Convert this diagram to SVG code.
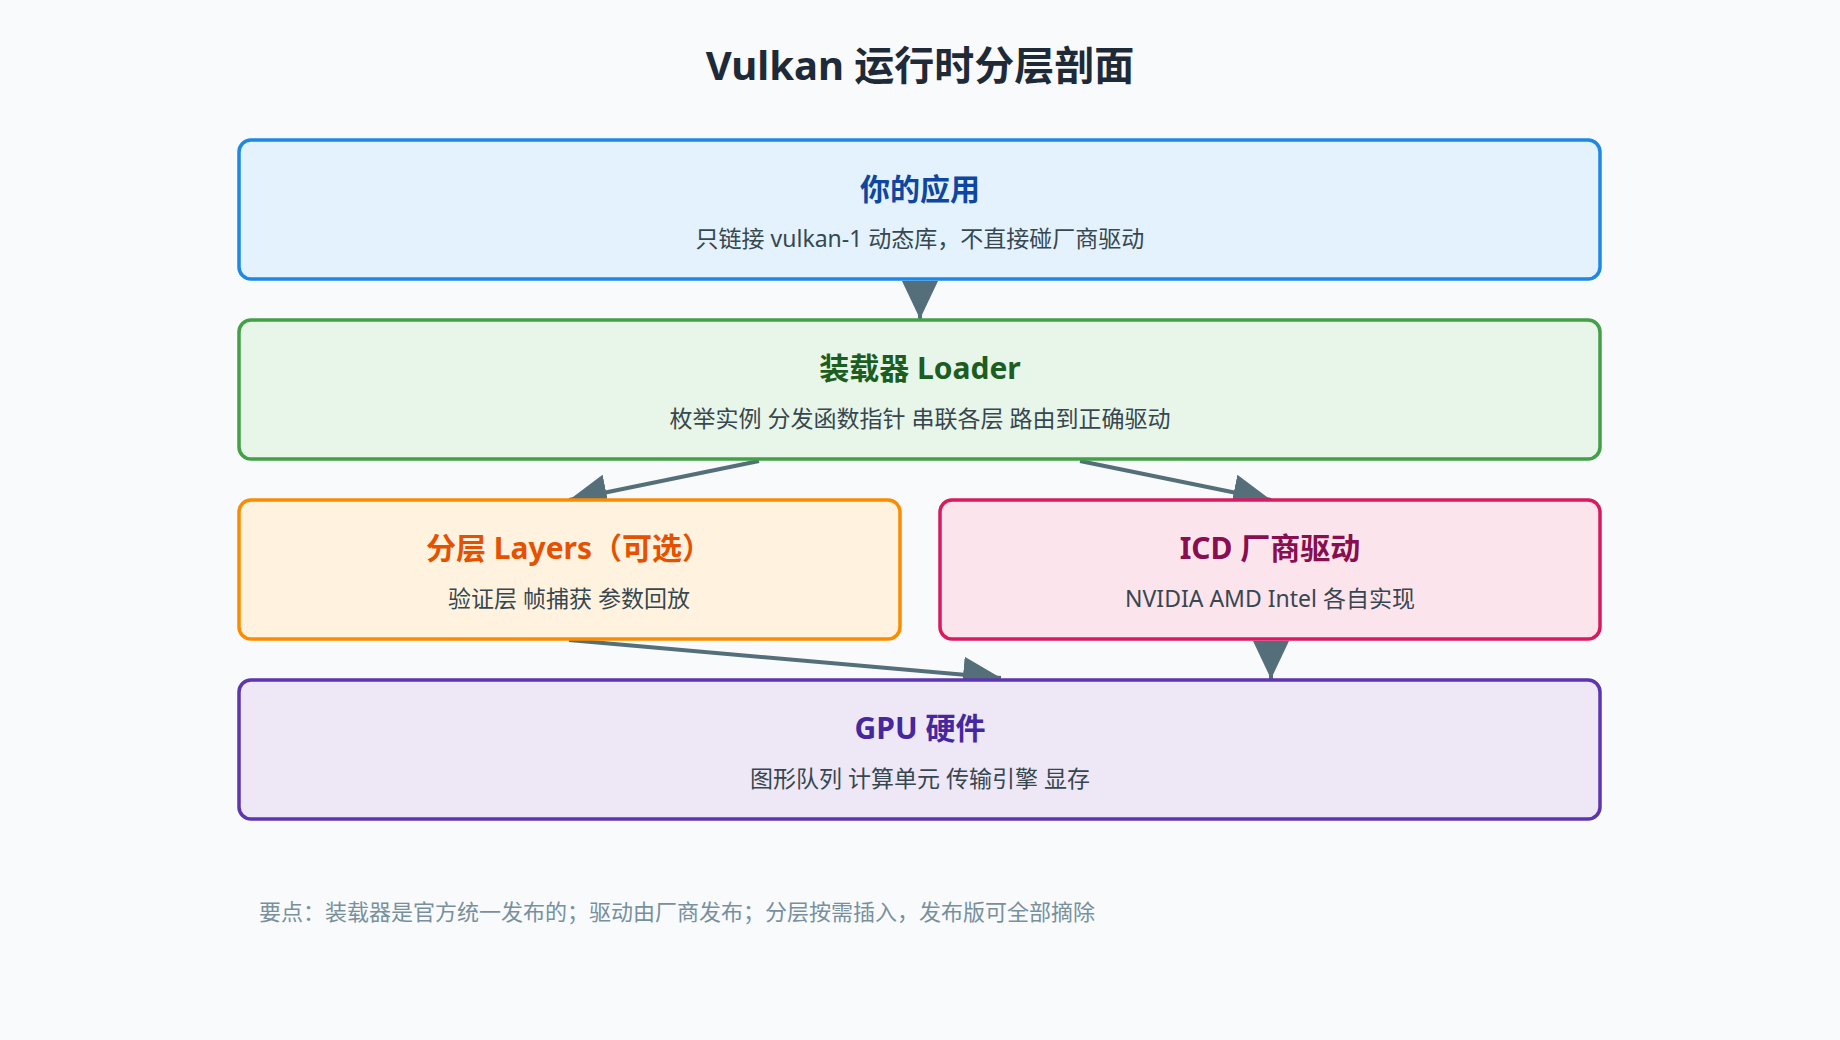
<svg xmlns="http://www.w3.org/2000/svg" width="1840" height="1040" viewBox="0 0 1840 1040">
<style>
text{font-family:"Noto Sans","Noto Sans CJK SC",sans-serif;text-anchor:middle}
.t{font-size:30px;font-weight:bold}
.s{font-size:23px;fill:#37474f}
.b{stroke-width:3.5}
.c{stroke:#546e7a;stroke-width:4;fill:none;marker-end:url(#a)}
</style>
<defs>
<marker id="a" markerUnits="userSpaceOnUse" markerWidth="40" markerHeight="36" refX="38" refY="18" orient="auto">
<path d="M0,0 L38,18 L0,36 Z" fill="#546e7a"/>
</marker>
</defs>
<rect width="1840" height="1040" fill="#f8fafc"/>
<text x="920" y="80" style="font-size:40px;font-weight:bold;fill:#1e2a38">Vulkan 运行时分层剖面</text>
<g id="connectors">
<path class="c" d="M920,281 L920,319"/>
<path class="c" d="M759,461 L569,500"/>
<path class="c" d="M1080,461 L1271,500"/>
<path class="c" d="M569,640 L1001,678"/>
<path class="c" d="M1271,642 L1271,679"/>
</g>
<g id="app">
<rect class="b" x="239" y="140" width="1361" height="139" rx="12" fill="#e3f2fd" stroke="#1e88e5"/>
<text class="t" x="920" y="200" fill="#0d47a1">你的应用</text>
<text class="s" x="920" y="247">只链接 vulkan-1 动态库，不直接碰厂商驱动</text>
</g>
<g id="loader">
<rect class="b" x="239" y="320" width="1361" height="139" rx="12" fill="#e8f5e9" stroke="#43a047"/>
<text class="t" x="920" y="379" fill="#1b5e20">装载器 Loader</text>
<text class="s" x="920" y="427">枚举实例 分发函数指针 串联各层 路由到正确驱动</text>
</g>
<g id="layers">
<rect class="b" x="239" y="500" width="661" height="139" rx="12" fill="#fff3e0" stroke="#fb8c00"/>
<text class="t" x="569" y="559" fill="#e65100">分层 Layers（可选）</text>
<text class="s" x="569" y="607">验证层 帧捕获 参数回放</text>
</g>
<g id="icd">
<rect class="b" x="940" y="500" width="660" height="139" rx="12" fill="#fce4ec" stroke="#d81b60"/>
<text class="t" x="1270" y="559" fill="#880e4f">ICD 厂商驱动</text>
<text class="s" x="1270" y="607">NVIDIA AMD Intel 各自实现</text>
</g>
<g id="gpu">
<rect class="b" x="239" y="680" width="1361" height="139" rx="12" fill="#ede7f6" stroke="#5e35b1"/>
<text class="t" x="920" y="739" fill="#4527a0">GPU 硬件</text>
<text class="s" x="920" y="787">图形队列 计算单元 传输引擎 显存</text>
</g>
<text x="259" y="920" style="font-size:22px;fill:#78909c;text-anchor:start">要点：装载器是官方统一发布的；驱动由厂商发布；分层按需插入，发布版可全部摘除</text>
</svg>
